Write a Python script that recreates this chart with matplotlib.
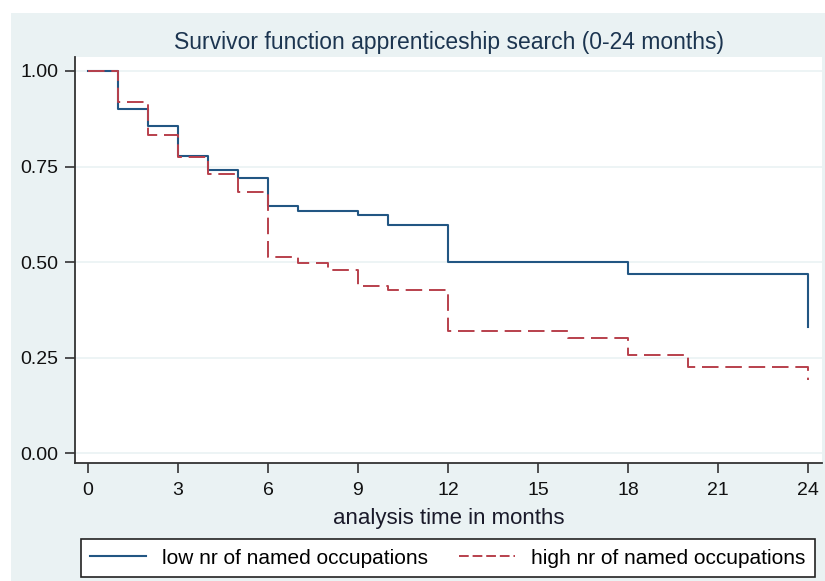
import matplotlib
matplotlib.use('Agg')
import matplotlib.pyplot as plt
from matplotlib.lines import Line2D
from matplotlib.patches import Rectangle

# Kaplan-Meier estimates (months, survivor function)
low_time = [0, 1, 2, 3, 4, 5, 6, 7, 9, 10, 12, 18, 24]
low_surv = [1.00, 0.90, 0.856, 0.777, 0.741, 0.72, 0.647, 0.634, 0.623, 0.597, 0.50, 0.469, 0.33]

high_time = [0, 1, 2, 3, 4, 5, 6, 7, 8, 9, 10, 12, 16, 18, 20, 24]
high_surv = [1.00, 0.92, 0.832, 0.775, 0.73, 0.683, 0.513, 0.497, 0.479, 0.437, 0.427, 0.32, 0.30, 0.257, 0.225, 0.19]

xticks = [0, 3, 6, 9, 12, 15, 18, 21, 24]
yticks = [0.00, 0.25, 0.50, 0.75, 1.00]

low_label = 'low nr of named occupations'
high_label = 'high nr of named occupations'

blue = '#225683'
red = '#b8404c'
bg = '#eaf2f3'

plt.rcParams['font.family'] = ['Liberation Sans', 'DejaVu Sans']

W, H = 825, 581
fig = plt.figure(figsize=(W / 100, H / 100), dpi=100)
fig.patches.append(Rectangle((11 / W, 0), 1 - 11 / W, 1 - 13 / H,
                             transform=fig.transFigure, facecolor=bg,
                             edgecolor='none', zorder=-5))

# axes box in pixels: left 75, right 822, top 57, bottom 463
ax = fig.add_axes([75 / W, 1 - 463 / H, (822 - 75) / W, (463 - 57) / H])
ax.set_facecolor('white')

ax.step(low_time, low_surv, where='post', color=blue, lw=1.5, zorder=3)
ax.step(high_time, high_surv, where='post', color=red, lw=1.4,
        dashes=(8.5, 3.5), zorder=3)

ax.set_xlim(-0.433, 24.47)
ax.set_ylim(-0.026, 1.0366)
ax.set_xticks(xticks)
ax.set_yticks(yticks)
ax.set_yticklabels(['%.2f' % v for v in yticks])
ax.grid(axis='y', color=bg, lw=1.2, zorder=1)
ax.set_axisbelow(True)

for s in ['top', 'right']:
    ax.spines[s].set_visible(False)
for s in ['left', 'bottom']:
    ax.spines[s].set_color('#333333')
    ax.spines[s].set_linewidth(1.3)
ax.tick_params(axis='both', direction='out', length=7, width=1.2,
               color='#333333', labelsize=14, labelcolor='#111111', pad=5)
ax.tick_params(axis='x', pad=7)

ax.set_xlabel('analysis time in months', fontsize=16, color='#1a1a2a', labelpad=6)
ax.set_title('Survivor function apprenticeship search (0-24 months)',
             fontsize=16.5, color='#1c3550', pad=6)

handles = [Line2D([], [], color=blue, lw=1.5),
           Line2D([], [], color=red, lw=1.4, dashes=(5, 2))]
leg = fig.legend(handles, [low_label, high_label], ncol=2,
                 loc='center',
                 bbox_to_anchor=(80 / W, 1 - 578 / H, (816 - 80) / W, 40 / H),
                 fontsize=15, frameon=True, fancybox=False, framealpha=1,
                 edgecolor='#222222', handlelength=2.65, handletextpad=0.8,
                 borderaxespad=0, borderpad=0.45, columnspacing=1.5)
leg.get_frame().set_linewidth(1.2)
leg.get_frame().set_facecolor('white')

fig.savefig('out.png', dpi=100)
